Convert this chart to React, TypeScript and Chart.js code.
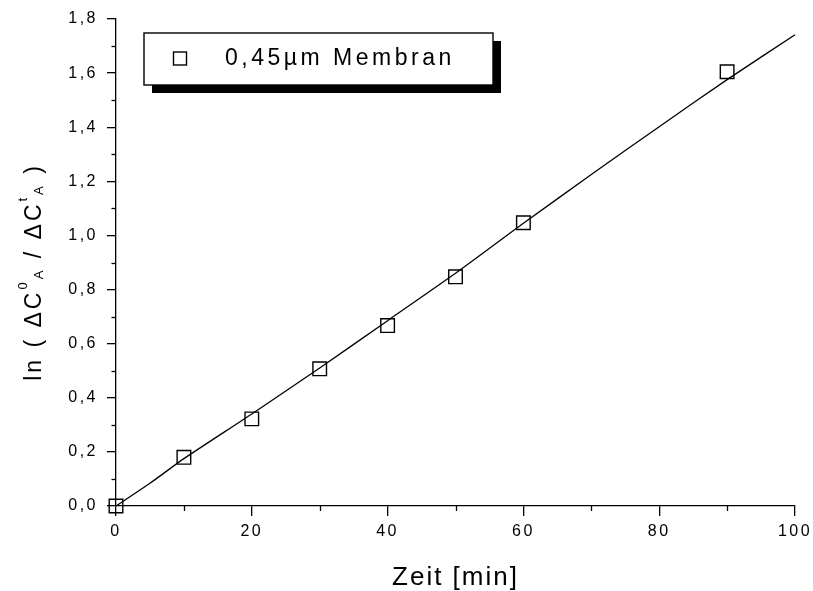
import React, { useEffect, useRef } from 'react';
import { Chart, registerables } from 'chart.js';

Chart.register(...registerables);

// ---- data ----
const timeMin = [0, 10, 20, 30, 40, 50, 60, 90];
const lnRatio = [0, 0.18, 0.322, 0.507, 0.667, 0.847, 1.047, 1.605];

const fitX = [0, 5, 10, 20, 30, 40, 50, 60, 70, 80, 90, 100];
const fitY = [0, 0.084, 0.175, 0.34, 0.51, 0.685, 0.86, 1.045, 1.225, 1.402, 1.576, 1.742];

const xTickValues = [0, 20, 40, 60, 80, 100];
const xTickLabels = ['0', '20', '40', '60', '80', '100'];
const yTickLabels = ['0,0', '0,2', '0,4', '0,6', '0,8', '1,0', '1,2', '1,4', '1,6', '1,8'];

const legendLabel = '0,45µm Membran';
const xTitle = 'Zeit [min]';

const FONT = '"Liberation Sans", Arial, Helvetica, sans-serif';

const isMajorY = (v: number) => Math.round(v * 10) % 2 === 0;
const isMajorX = (v: number) => Math.round(v) % 20 === 0;

const customDraw = {
  id: 'customDraw',
  beforeDraw(chart: any) {
    chart.ctx.letterSpacing = '2.5px';
  },
  afterDraw(chart: any) {
    const ctx = chart.ctx as CanvasRenderingContext2D;
    const xs = chart.scales.x;
    const ys = chart.scales.y;
    const area = chart.chartArea;
    ctx.save();
    ctx.strokeStyle = '#000';
    ctx.fillStyle = '#000';
    ctx.lineWidth = 1.3;
    // minor ticks
    xs.ticks.forEach((t: any) => {
      if (!isMajorX(t.value)) {
        const px = Math.round(xs.getPixelForValue(t.value)) + 0.5;
        ctx.beginPath();
        ctx.moveTo(px, area.bottom);
        ctx.lineTo(px, area.bottom + 5);
        ctx.stroke();
      }
    });
    ys.ticks.forEach((t: any) => {
      if (!isMajorY(t.value)) {
        const py = Math.round(ys.getPixelForValue(t.value)) + 0.5;
        ctx.beginPath();
        ctx.moveTo(area.left - 4.5, py);
        ctx.lineTo(area.left, py);
        ctx.stroke();
      }
    });

    // legend box with shadow
    const bx = 144, by = 33, bw = 349, bh = 52;
    ctx.fillStyle = '#000';
    ctx.fillRect(bx + 8, by + 8, bw, bh);
    ctx.fillStyle = '#fff';
    ctx.fillRect(bx, by, bw, bh);
    ctx.lineWidth = 1.4;
    ctx.strokeStyle = '#000';
    ctx.strokeRect(bx, by, bw, bh);
    // legend marker
    ctx.lineWidth = 1.4;
    ctx.strokeRect(173.5, 52, 13, 13);
    // legend text
    ctx.fillStyle = '#000';
    ctx.font = `23px ${FONT}`;
    (ctx as any).letterSpacing = '3.5px';
    ctx.textAlign = 'left';
    ctx.textBaseline = 'alphabetic';
    ctx.fillText(chart.data.datasets[1].label, 225, 65);

    // x title
    ctx.font = `26px ${FONT}`;
    (ctx as any).letterSpacing = '2px';
    ctx.textAlign = 'center';
    ctx.fillText(xTitle, (area.left + area.right) / 2, 585);

    // y title with super/subscripts
    const segs: { t: string; size: number; dy: number }[] = [
      { t: 'ln ( ΔC', size: 23, dy: 0 },
      { t: '0', size: 13, dy: -14 },
      { t: 'A', size: 13, dy: 2 },
      { t: ' / ΔC', size: 23, dy: 0 },
      { t: 't', size: 13, dy: -14 },
      { t: 'A', size: 13, dy: 2 },
      { t: ' )', size: 23, dy: 0 },
    ];
    (ctx as any).letterSpacing = '3px';
    ctx.textAlign = 'left';
    let total = 0;
    const widths = segs.map((s) => {
      ctx.font = `${s.size}px ${FONT}`;
      const w = ctx.measureText(s.t).width;
      total += w;
      return w;
    });
    ctx.translate(41, 272);
    ctx.rotate(-Math.PI / 2);
    let cx = -total / 2;
    segs.forEach((s, i) => {
      ctx.font = `${s.size}px ${FONT}`;
      ctx.fillText(s.t, cx, s.dy);
      cx += widths[i];
    });
    ctx.restore();
  },
};

export default function App() {
  const ref = useRef<HTMLCanvasElement | null>(null);
  useEffect(() => {
    if (!ref.current) return;
    const chart = new Chart(ref.current, {
      type: 'scatter',
      data: {
        datasets: [
          {
            label: 'Fit',
            data: fitX.map((x, i) => ({ x, y: fitY[i] })),
            showLine: true,
            pointRadius: 0,
            borderColor: '#000',
            borderWidth: 1.3,
            tension: 0.2,
            clip: false as any,
          },
          {
            label: legendLabel,
            data: timeMin.map((x, i) => ({ x, y: lnRatio[i] })),
            showLine: false,
            pointStyle: 'rect',
            pointRadius: 9.6,
            borderColor: '#000',
            backgroundColor: 'rgba(0,0,0,0)',
            pointBorderWidth: 1.4,
            clip: false as any,
          },
        ],
      },
      options: {
        responsive: false,
        animation: false,
        layout: { padding: { top: 19, right: 18, left: 0, bottom: 0 } },
        plugins: { legend: { display: false }, tooltip: { enabled: false } },
        scales: {
          x: {
            type: 'linear',
            min: 0,
            max: 100,
            ticks: {
              stepSize: 10,
              autoSkip: false,
              maxRotation: 0,
              padding: 6,
              color: '#000',
              font: { family: FONT, size: 16 },
              callback: (v: any) => {
                const i = xTickValues.indexOf(Math.round(Number(v)));
                return isMajorX(Number(v)) && i >= 0 ? xTickLabels[i] : '';
              },
            },
            grid: {
              drawOnChartArea: false,
              drawTicks: true,
              tickLength: 10,
              lineWidth: 1.3,
              color: (c: any) => (isMajorX(c.tick.value) ? '#000' : 'rgba(0,0,0,0)'),
            },
            border: { display: true, color: '#000', width: 1.3 },
            afterFit: (s: any) => {
              s.height = 85;
              s.paddingLeft = 0;
              s.paddingRight = 0;
            },
          },
          y: {
            type: 'linear',
            min: 0,
            max: 1.8,
            ticks: {
              stepSize: 0.1,
              autoSkip: false,
              padding: 9,
              color: '#000',
              font: { family: FONT, size: 16 },
              callback: (v: any) => {
                const k = Math.round(Number(v) * 10);
                return k % 2 === 0 ? yTickLabels[k / 2] : '';
              },
            },
            grid: {
              drawOnChartArea: false,
              drawTicks: true,
              tickLength: 9,
              lineWidth: 1.3,
              color: (c: any) => (isMajorY(c.tick.value) ? '#000' : 'rgba(0,0,0,0)'),
            },
            border: { display: true, color: '#000', width: 1.3 },
            afterFit: (s: any) => {
              s.width = 116;
              s.paddingTop = 0;
              s.paddingBottom = 0;
            },
          },
        },
      },
      plugins: [customDraw],
    });
    return () => chart.destroy();
  }, []);
  return (
    <div style={{ position: 'fixed', left: 0, top: 0, width: 813, height: 591, background: '#fff' }}>
      <canvas ref={ref} width={813} height={591} style={{ display: 'block' }} />
    </div>
  );
}
